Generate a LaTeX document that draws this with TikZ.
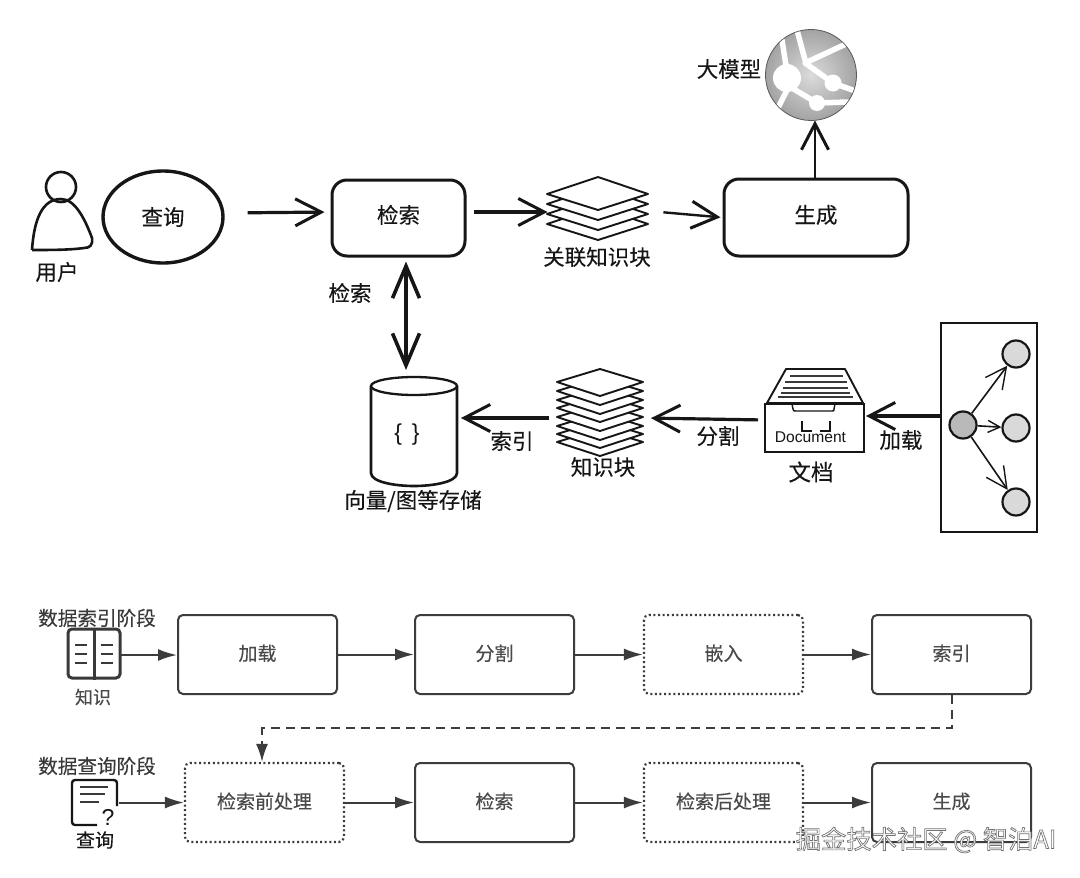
\documentclass[tikz,border=0pt]{standalone}
\usepackage{fontspec}
\setmainfont{Noto Sans CJK SC}[FakeBold=0.2]
\newfontfamily\wmfont{Noto Sans CJK SC}
\newfontfamily\latinf{Liberation Sans}
\usetikzlibrary{arrows.meta,shapes.geometric,shapes.misc}
\definecolor{ink}{HTML}{161616}
\definecolor{flow}{HTML}{3C3C3C}
\definecolor{flowtxt}{HTML}{4A4A4A}
\newcommand{\upt}[2][4pt]{\raisebox{#1}{#2}}
\tikzset{
  x=1pt,y=-1pt,
  sketchbox/.style={draw=ink,line width=3pt,rounded corners=15pt,fill=white,inner sep=0pt,font=\fontsize{21.5}{23}\selectfont,text=ink},
  barb/.style={draw=ink,line width=#1,-{Straight Barb[length=26pt,width=27pt,line width=3pt]}},
  barb/.default=3.2pt,
  ghost/.style={inner sep=0pt,outer sep=0pt},
  flowbox/.style={draw=flow,line width=2pt,rounded corners=5pt,minimum width=159pt,minimum height=79pt,inner sep=0pt,text=flowtxt,font=\fontsize{19}{21}\selectfont},
  optbox/.style={flowbox,dash pattern=on 2pt off 2.6pt,line width=2.2pt},
  flowarrow/.style={draw=flow,line width=2pt,-{Latex[length=19pt,width=12pt]}},
  leaf/.style={draw=ink,line width=1.9pt,fill=white,line join=round},
  gnode/.style={circle,draw=ink,line width=2.2pt,fill=gray!35,minimum size=27pt,inner sep=0pt},
  gedge/.style={draw=ink,line width=1.6pt,-{Straight Barb[length=#1,width=#1,line width=1.4pt]}},
  road/.style={draw=white,line width=5.5pt,line cap=round,line join=round},
  label1/.style={inner sep=0pt,text=ink,font=\fontsize{21.5}{23}\selectfont},
  label3/.style={inner sep=0pt,text=ink!85,font=\fontsize{19.6}{21}\selectfont},
}
\begin{document}
\begin{tikzpicture}
\useasboundingbox (0,0) rectangle (1080,878);
\fill[white] (0,0) rectangle (1080,878);

% user
\draw[ink,line width=2.6pt] (61,187) circle (15);
\draw[ink,line width=2.6pt,line join=round] (32,250) .. controls (34,220) and (42,199) .. (61,199)
  .. controls (76,199) and (86,222) .. (92,238) .. controls (93,245) and (90,248) .. (84,248) .. controls (70,250) and (50,250) .. (32,250);
\node[label1] (userlabel) at (57,272) {用户};

% upper nodes
\node[ellipse,draw=ink,line width=3.4pt,minimum width=120pt,minimum height=92pt,inner sep=0pt,font=\fontsize{21.5}{23}\selectfont,text=ink] (q) at (163,217) {查询};
\node[sketchbox,minimum width=133pt,minimum height=76pt] (ret) at (398.5,218) {\upt[8pt]{检索}};
\node[sketchbox,minimum width=184pt,minimum height=77pt] (gen) at (816,217.5) {\upt[7pt]{生成}};

% related stack
\foreach \b in {240,230,220,210}{
  \draw[leaf] (598,\b) -- (648,\b-16) -- (598,\b-33) -- (547,\b-16) -- cycle;
}
\node[ghost,minimum width=101pt,minimum height=63pt] (relstack) at (598,208.5) {};
\node[label1] (rellabel) at (597,257) {关联知识块};

% globe
\shade[inner color=gray!28,outer color=gray!72] (811,75) circle (45.5);
\draw[gray!70!black,line width=.8pt] (811,75) circle (45.5);
\begin{scope}
\clip (811,75) circle (45);
\draw[road] (797,30) -- (805,60);
\draw[road] (846,44) -- (805,63) -- (833,83) -- (858,92);
\draw[road] (782,40) -- (787,72);
\draw[road] (787,90) -- (778,108);
\draw[road] (787,85) -- (817,103) -- (848,102);
\fill[white] (787,78) circle (14);
\fill[white] (833,83) circle (8.5);
\fill[white] (817,103) circle (8);
\end{scope}
\node[ghost,circle,minimum size=91pt] (globe) at (811,75) {};
\node[label1] (llm) at (729,69) {大模型};

% cylinder
\draw[ink,line width=2.6pt,fill=white] (371,386) -- (371,473) .. controls (371,482) and (395,486) .. (414,486) .. controls (433,486) and (457,482) .. (457,473) -- (457,386);
\draw[ink,line width=2.3pt,fill=white] (414,386) ellipse (43 and 9);
\node[ghost,minimum width=86pt,minimum height=100pt] (db) at (414,427) {};
\node[inner sep=0pt,text=ink,font=\latinf\fontsize{23}{25}\selectfont] (braces) at (407,435) {\{\hspace{10pt}\}};
\node[label1] (dblabel) at (413,501) {向量/图等存储};

% chunk stack
\foreach \b in {456,448,440,431,422,414,405,396}{
  \draw[leaf] (600,\b) -- (643,\b-14) -- (600,\b-27) -- (557,\b-14) -- cycle;
}
\node[ghost,minimum width=88pt,minimum height=85pt] (chunks) at (600,413.5) {};
\node[label1] (chunklabel) at (603,467) {知识块};

% drawer
\draw[ink,line width=1.9pt,fill=white,line join=round] (767,403) -- (786,369) -- (845,369) -- (863,403) -- cycle;
\foreach \a/\bx/\y in {790/843/376,785/847/382,783/848/388,781/850/393,778/853/397}{
  \draw[ink!85,line width=1.5pt] (\a,\y) -- (\bx,\y);
}
\draw[ink,line width=1.9pt,fill=white] (765,404) rectangle (864,452);
\draw[ink,line width=1.4pt] (792,404) -- (793,409) .. controls (793,411) and (794,411) .. (796,411) -- (832,411) .. controls (834,411) and (834,411) .. (834,409) -- (835,404);
\draw[ink,line width=1.1pt] (802,421) -- (802,431) -- (812,431);
\draw[ink,line width=1.1pt] (830,421) -- (830,431) -- (820,431);
\node[ghost,minimum width=99pt,minimum height=83pt] (drawer) at (814.5,410.5) {};
\node[inner sep=0pt,text=ink,font=\latinf\fontsize{15.6}{17}\selectfont] (doctext) at (810.5,437) {Document};
\node[inner sep=0pt,text=ink,font=\fontsize{22.5}{24}\selectfont] (doclabel) at (811,472) {文档};

% graph box
\node[draw=ink,line width=2.2pt,minimum width=96pt,minimum height=209pt,inner sep=0pt] (graphbox) at (989,427.5) {};
\node[gnode,fill=gray!55] (g0) at (963,425) {};
\node[gnode,fill=gray!30] (g1) at (1016,354) {};
\node[gnode,fill=gray!30] (g2) at (1016,428) {};
\node[gnode,fill=gray!30] (g3) at (1016,502) {};
\draw[gedge=21pt] (g0) -- (g1);
\draw[gedge=12pt] (g0) -- (g2);
\draw[gedge=21pt] (g0) -- (g3);

% upper connectors
\draw[barb,shorten <=23pt,shorten >=6pt] ([yshift=4pt]q.east) -- ([yshift=6pt]ret.west);
\draw[barb,shorten <=7pt] ([yshift=6pt]ret.east) -- ([yshift=-3.5pt]relstack.west);
\draw[barb=2.4pt,shorten <=15pt,shorten >=2pt] ([yshift=-2.5pt]relstack.east) -- (gen.west);
\draw[barb=2.8pt] ([xshift=-1pt]gen.north) -- ([xshift=4pt]globe.south);
\draw[ink,line width=3.6pt,{Straight Barb[length=32pt,width=27pt,line width=3.6pt]}-{Straight Barb[length=32pt,width=27pt,line width=3.6pt]},shorten <=4pt,shorten >=7pt] ([xshift=7.5pt]ret.south) -- ([xshift=-8pt]db.north);
\node[label1] (retlabel) at (350,293) {检索};

% lower-upper connectors
\draw[barb,shorten <=7pt,shorten >=4pt] ([yshift=-4.5pt]chunks.west) -- ([yshift=9pt]db.east);
\draw[barb,shorten <=7pt,shorten >=7pt] ([yshift=-9.5pt]drawer.west) -- ([yshift=-4.5pt]chunks.east);
\draw[barb,shorten >=2pt] (graphbox.west |- 0,416) -- (drawer.east |- 0,416);
\node[label1] (idxlabel) at (512,441) {索引};
\node[label1] (splitlabel) at (718,436) {分割};
\node[label1] (loadlabel) at (901,440) {加载};

% flow row 1
\node[flowbox] (f1) at (257.5,654.5) {\upt{加载}};
\node[flowbox] (f2) at (494.5,654.5) {\upt{分割}};
\node[optbox] (f3) at (723.5,654.5) {\upt{嵌入}};
\node[flowbox] (f4) at (951.5,654.5) {\upt{索引}};
% flow row 2
\node[optbox] (s1) at (264.5,802.5) {\upt{检索前处理}};
\node[flowbox] (s2) at (494.5,802.5) {\upt{检索}};
\node[optbox] (s3) at (723.5,802.5) {\upt{检索后处理}};
\node[flowbox] (s4) at (951.5,802.5) {\upt{生成}};

% book icon
\node[ghost,minimum width=54pt,minimum height=50pt] (book) at (94,654) {};
\draw[ink!85,line width=3pt,rounded corners=4pt] (68,629) rectangle (120,678);
\draw[ink!85,line width=3pt] (94,629) -- (94,680);
\foreach \y in {645,654,663}{
  \draw[ink!85,line width=2.6pt] (75,\y) -- (87,\y);
  \draw[ink!85,line width=2.6pt] (101,\y) -- (113,\y);
}
\node[inner sep=0pt,text=flowtxt,font=\fontsize{18}{20}\selectfont] (knowlabel) at (93,697) {知识};
\node[label3] (phase1) at (97,618) {数据索引阶段};

% doc icon
\node[ghost,minimum width=48pt,minimum height=47pt] (docicon) at (94.5,802.5) {};
\draw[ink,line width=2.4pt,rounded corners=3pt] (117,806) -- (117,780) -- (72,780) -- (72,825) -- (97,825);
\draw[ink!85,line width=2pt] (80,787) -- (108,787) (80,794) -- (105,794) (80,802) -- (99,802);
\node[inner sep=0pt,text=ink,font=\latinf\fontsize{23}{25}\selectfont] (qmark) at (108,817) {?};
\node[label1,font=\fontsize{19}{21}\selectfont] (querylabel) at (95,840) {查询};
\node[label3] (phase2) at (97,766) {数据查询阶段};

% flow connectors
\draw[flowarrow] ([yshift=-1pt]book.east) -- ([yshift=-0.5pt]f1.west);
\draw[flowarrow] (f1) -- (f2);
\draw[flowarrow] (f2) -- (f3);
\draw[flowarrow] (f3) -- (f4);
\draw[flowarrow] (docicon.east) -- (s1.west);
\draw[flowarrow] (s1) -- (s2);
\draw[flowarrow] (s2) -- (s3);
\draw[flowarrow] (s3) -- (s4);
\coordinate (dtop) at (262,728);
\draw[draw=flow,line width=2pt,dash pattern=on 9pt off 6pt,-{Latex[length=18pt,width=12pt]}] (f4.south) |- (dtop) -- (s1.north -| dtop);

% watermark
\node[inner sep=0pt,text=white,font=\wmfont\fontsize{25.3}{27}\selectfont] (wm) at (926,840) {\special{pdf:code 2 Tr 0.7 w 0.45 G}掘金技术社区 @ 智泊AI\special{pdf:code 0 Tr}};
\end{tikzpicture}
\end{document}
